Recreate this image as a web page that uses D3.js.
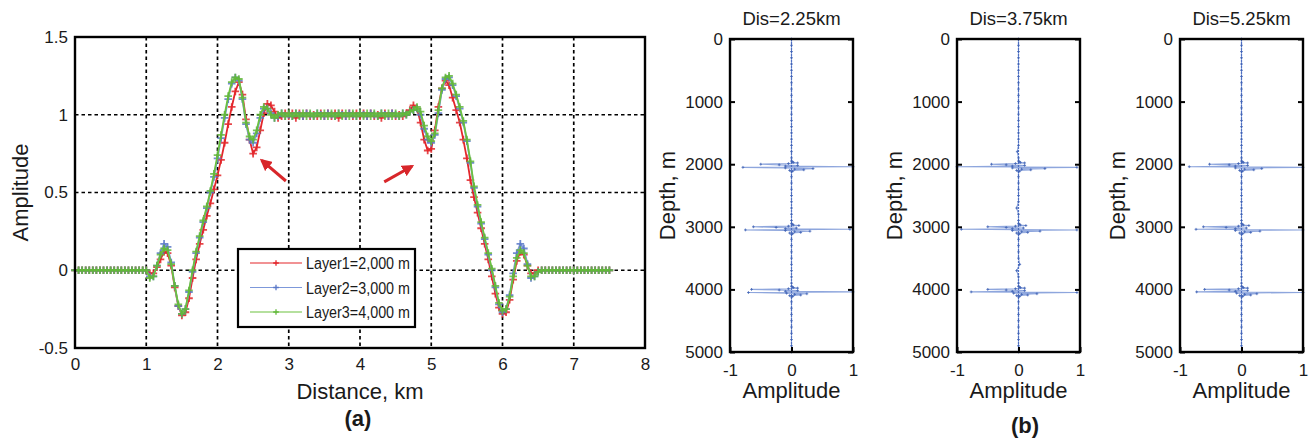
<!DOCTYPE html>
<html>
<head>
<meta charset="utf-8">
<script src="https://cdn.jsdelivr.net/npm/d3@7"></script>
<style>
body { margin: 0; background: #fff; }
text { font-family: Arial, "Liberation Sans", sans-serif; fill: #1a1a1a; }
</style>
</head>
<body>
<svg id="fig" width="1310" height="438"></svg>
<script>
// ---- data: panel (a) ----
const distance = [
  0,0.05,0.1,0.15,0.2,0.25,0.3,0.35,0.4,0.45,
  0.5,0.55,0.6,0.65,0.7,0.75,0.8,0.85,0.9,0.95,
  1,1.05,1.1,1.15,1.2,1.25,1.3,1.35,1.4,1.45,
  1.5,1.55,1.6,1.65,1.7,1.75,1.8,1.85,1.9,1.95,
  2,2.05,2.1,2.15,2.2,2.25,2.3,2.35,2.4,2.45,
  2.5,2.55,2.6,2.65,2.7,2.75,2.8,2.85,2.9,2.95,
  3,3.05,3.1,3.15,3.2,3.25,3.3,3.35,3.4,3.45,
  3.5,3.55,3.6,3.65,3.7,3.75,3.8,3.85,3.9,3.95,
  4,4.05,4.1,4.15,4.2,4.25,4.3,4.35,4.4,4.45,
  4.5,4.55,4.6,4.65,4.7,4.75,4.8,4.85,4.9,4.95,
  5,5.05,5.1,5.15,5.2,5.25,5.3,5.35,5.4,5.45,
  5.5,5.55,5.6,5.65,5.7,5.75,5.8,5.85,5.9,5.95,
  6,6.05,6.1,6.15,6.2,6.25,6.3,6.35,6.4,6.45,
  6.5,6.55,6.6,6.65,6.7,6.75,6.8,6.85,6.9,6.95,
  7,7.05,7.1,7.15,7.2,7.25,7.3,7.35,7.4,7.45,
  7.5
];
const layer1 = [
  0,0,0,0,0,0,0,0,0,0,
  0,0,0,0,0,0,0,0,0,0,
  0,-0.02,-0.02,0.02,0.07,0.12,0.11,0.03,-0.11,-0.23,
  -0.29,-0.27,-0.18,-0.05,0.07,0.17,0.26,0.35,0.43,0.52,
  0.61,0.71,0.82,0.94,1.05,1.15,1.21,1.13,0.97,0.84,
  0.75,0.79,0.9,1.01,1.07,1.06,1.02,0.98,0.99,1.01,
  0.99,1.01,0.98,1.01,0.99,1.01,0.99,1,0.99,1.01,
  0.99,1.01,0.99,1.01,0.98,1.01,0.99,1.01,0.99,1.01,
  0.99,1.01,0.99,1.01,0.99,1,0.98,1.01,0.99,1.01,
  0.99,1,0.99,1.01,1.03,1.06,1.04,0.95,0.84,0.77,
  0.78,0.9,1.05,1.17,1.22,1.19,1.11,1.03,0.95,0.84,
  0.72,0.58,0.47,0.37,0.27,0.17,0.07,-0.04,-0.15,-0.24,
  -0.28,-0.27,-0.19,-0.06,0.06,0.12,0.1,0.03,-0.02,-0.02,
  0,0,0,0,0,0,0,0,0,0,
  0,0,0,0,0,0,0,0,0,0,
  0
];
const layer2 = [
  0,0,0,0,0,0,0,0,0,0,
  0,0,0,0,0,0,0,0,0,0,
  0,-0.04,-0.04,0.03,0.11,0.17,0.15,0.05,-0.1,-0.23,
  -0.28,-0.25,-0.14,-0.01,0.11,0.21,0.31,0.4,0.5,0.6,
  0.72,0.85,0.98,1.1,1.2,1.24,1.22,1.1,0.94,0.84,
  0.82,0.88,0.98,1.04,1.04,1.01,0.98,0.99,1.01,0.99,
  1,0.99,1.01,1,0.99,1.01,1,0.99,1.01,1,
  0.99,1.01,1,0.99,1.01,1,0.99,1.01,1,0.99,
  1.01,1,0.99,1.01,1,0.99,1.01,1,0.99,1.01,
  1,0.99,1.01,1,1.02,1.03,1.04,1,0.91,0.84,
  0.82,0.87,1.01,1.16,1.23,1.24,1.19,1.12,1.04,0.95,
  0.83,0.69,0.53,0.41,0.3,0.2,0.1,0,-0.11,-0.22,
  -0.27,-0.25,-0.16,-0.02,0.11,0.17,0.14,0.04,-0.05,-0.04,
  -0.01,0,0,0,0,0,0,0,0,0,
  0,0,0,0,0,0,0,0,0,0,
  0
];
const layer3 = [
  0,0,0,0,0,0,0,0,0,0,
  0,0,0,0,0,0,0,0,0,0,
  0,-0.05,-0.04,0.03,0.1,0.14,0.13,0.04,-0.1,-0.22,
  -0.28,-0.25,-0.13,0,0.12,0.22,0.32,0.41,0.51,0.62,
  0.74,0.87,1,1.12,1.21,1.24,1.23,1.11,0.95,0.86,
  0.84,0.9,1,1.05,1.04,1,0.98,1,1.01,0.99,
  1.01,0.99,1.01,0.99,1.01,0.99,1.01,0.99,1.01,0.99,
  1.01,0.99,1.01,0.99,1.01,0.99,1.01,0.99,1.01,0.99,
  1.01,0.99,1.01,0.99,1.01,0.99,1.01,0.99,1.01,0.99,
  1.01,0.99,1.01,1,1.02,1.03,1.05,1.02,0.93,0.86,
  0.83,0.88,1.03,1.17,1.24,1.25,1.2,1.13,1.05,0.96,
  0.84,0.7,0.54,0.42,0.31,0.21,0.11,0.01,-0.1,-0.21,
  -0.26,-0.25,-0.17,-0.04,0.08,0.13,0.11,0.03,-0.04,-0.04,
  -0.01,0,0,0,0,0,0,0,0,0,
  0,0,0,0,0,0,0,0,0,0,
  0
];
const layerNames = ["Layer1=2,000 m", "Layer2=3,000 m", "Layer3=4,000 m"];
const xTicksA = [0, 1, 2, 3, 4, 5, 6, 7, 8];
const yTicksA = [-0.5, 0, 0.5, 1, 1.5];
// arrows pointing at the dips [x0, y0, x1, y1] in data units
const arrows = [[2.96, 0.574, 2.62, 0.707], [4.34, 0.568, 4.73, 0.669]];

// ---- data: panel (b) ----
const depth = [
  0,100,200,300,400,500,600,700,800,900,1000,1100,1200,1300,1400,1500,1600,1700,1800,1900,
  1950,1960,1970,1980,1990,2000,2010,2020,2030,2040,2050,2060,2070,2080,2090,2100,2110,2120,
  2200,2300,2400,2500,2600,2700,2800,2900,
  2950,2960,2970,2980,2990,3000,3010,3020,3030,3040,3050,3060,3070,3080,3090,3100,3110,3120,
  3200,3300,3400,3500,3600,3700,3800,3900,
  3950,3960,3970,3980,3990,4000,4010,4020,4030,4040,4050,4060,4070,4080,4090,4100,4110,4120,
  4200,4300,4400,4500,4600,4700,4800,4900,5000
];
const trace225 = [
  0,0,0,0,0,0,0,0,0,0,0,0,0,0,0,0,0,0,0,0,
  0,0.01,0.03,0.1,-0.05,-0.5,-0.2,0.1,-0.1,1,-0.79,-0.1,0.35,0.05,0.2,-0.03,0.02,0,
  0,0,0,0,0,0,0,0,
  0,0.01,0.03,0.12,-0.05,-0.62,-0.25,0.08,-0.1,0.95,-0.75,-0.1,0.3,0.05,0.15,-0.03,0.02,0,
  0,0,0,0,0,0,0,0,
  0,0.01,0.03,0.1,-0.05,-0.65,-0.2,0.1,-0.1,1,-0.7,-0.08,0.25,0.05,0.15,-0.03,0.02,0,
  0,0,0,0,0,0,0,0,0
];
const trace375 = [
  0,0,0,0,0,0,0,0,0,0,0,0,0,0,0,0,0,0,-0.02,0,
  0,0.01,0.03,0.1,-0.05,-0.44,-0.2,0.1,-0.1,-1,0.95,-0.1,0.43,0.05,0.2,-0.03,0.02,0,
  0,0,0,0,0,-0.03,0,0,
  0,0.01,0.03,0.12,-0.05,-0.5,-0.2,0.08,-0.1,-0.93,0.95,-0.1,0.35,0.05,0.15,-0.03,0.02,0,
  0,0,0,0,0.02,-0.03,0,0,
  0,0.01,0.03,0.1,-0.05,-0.5,-0.2,0.1,-0.1,-0.77,0.95,-0.08,0.3,0.05,0.15,-0.03,0.02,0,
  0,0,0,0,0,0,0,0,0
];
const trace525 = [
  0,0,0,0,0,0,0,0,0,0,0,0,0,0,0,0,0,0,0,0,
  0,0.01,0.03,0.1,-0.05,-0.52,-0.2,0.1,-0.1,-0.85,1,-0.1,0.33,0.05,0.2,-0.03,0.02,0,
  0,0,0,0,0,0,0,0,
  0,0.01,0.03,0.12,-0.05,-0.62,-0.25,0.08,-0.1,-0.74,1,-0.1,0.3,0.05,0.15,-0.03,0.02,0,
  0,0,0,0,0,0,0,0,
  0,0.01,0.03,0.1,-0.05,-0.6,-0.2,0.1,-0.1,-0.73,1,-0.08,0.25,0.05,0.15,-0.03,0.02,0,
  0,0,0,0,0,0,0,0,0
];
const panelTitles = ["Dis=2.25km", "Dis=3.75km", "Dis=5.25km"];
const depthTicks = [0, 1000, 2000, 3000, 4000, 5000];
const ampTicks = [-1, 0, 1];

const svg = d3.select("#fig");
const plus = s => `M${-s},0H${s}M0,${-s}V${s}`;
const FONT = "Arial, 'Liberation Sans', sans-serif";

// ================= panel (a) =================
const A = {left: 75, right: 645, top: 37, bottom: 348};
const xA = d3.scaleLinear().domain([0, 8]).range([A.left, A.right]);
const yA = d3.scaleLinear().domain([-0.5, 1.5]).range([A.bottom, A.top]);

const ga = svg.append("g");

// dashed grid
ga.append("g").selectAll("line").data(xTicksA.slice(1, -1)).join("line")
  .attr("x1", d => xA(d)).attr("x2", d => xA(d))
  .attr("y1", A.top).attr("y2", A.bottom)
  .attr("stroke", "#000").attr("stroke-width", 1.7).attr("stroke-dasharray", "3.5,3");
ga.append("g").selectAll("line").data(yTicksA.slice(1, -1)).join("line")
  .attr("x1", A.left).attr("x2", A.right)
  .attr("y1", d => yA(d)).attr("y2", d => yA(d))
  .attr("stroke", "#000").attr("stroke-width", 1.7).attr("stroke-dasharray", "3.5,3");

const colors = ["#e3262b", "#7d98da", "#6cc23f"];
const markColors = ["#e3262b", "#5a78c8", "#62b83a"];
const series = [layer1, layer2, layer3];
const lineA = d3.line().x((d, i) => xA(distance[i])).y(d => yA(d));

series.forEach((s, k) => {
  ga.append("path").datum(s)
    .attr("d", lineA).attr("fill", "none")
    .attr("stroke", colors[k]).attr("stroke-width", 1.8);
  ga.append("g").selectAll("path").data(s).join("path")
    .attr("transform", (d, i) => `translate(${xA(distance[i])},${yA(d)})`)
    .attr("d", plus(3.8)).attr("stroke", markColors[k]).attr("stroke-width", 1.8)
    .attr("opacity", 0.85);
});

// arrows
svg.append("defs").append("marker")
  .attr("id", "head").attr("viewBox", "0 0 10 10").attr("refX", 8).attr("refY", 5)
  .attr("markerWidth", 4).attr("markerHeight", 4).attr("orient", "auto")
  .append("path").attr("d", "M0,0L10,5L0,10Z").attr("fill", "#d8262a");
ga.append("g").selectAll("line").data(arrows).join("line")
  .attr("x1", d => xA(d[0])).attr("y1", d => yA(d[1]))
  .attr("x2", d => xA(d[2])).attr("y2", d => yA(d[3]))
  .attr("stroke", "#d8262a").attr("stroke-width", 3).attr("marker-end", "url(#head)");

// axes
const axA = ga.append("g").attr("transform", `translate(0,${A.bottom})`)
  .call(d3.axisBottom(xA).tickValues(xTicksA).tickSize(0).tickPadding(10));
const ayA = ga.append("g").attr("transform", `translate(${A.left},0)`)
  .call(d3.axisLeft(yA).tickValues(yTicksA).tickFormat(d => String(d)).tickSize(0).tickPadding(7));
[axA, ayA].forEach(a => {
  a.select(".domain").remove();
  a.selectAll("text").attr("font-size", 17).attr("fill", "#1a1a1a").style("font-family", FONT);
});
ga.append("rect").attr("x", A.left).attr("y", A.top)
  .attr("width", A.right - A.left).attr("height", A.bottom - A.top)
  .attr("fill", "none").attr("stroke", "#000").attr("stroke-width", 2.4);

// legend
const L = {x: 238, y: 249, w: 177, h: 78};
const lg = ga.append("g");
lg.append("rect").attr("x", L.x).attr("y", L.y).attr("width", L.w).attr("height", L.h)
  .attr("fill", "#fff").attr("stroke", "#000").attr("stroke-width", 2.2);
layerNames.forEach((name, k) => {
  const yy = L.y + 14 + k * 24.5;
  lg.append("line").attr("x1", L.x + 12).attr("x2", L.x + 64).attr("y1", yy).attr("y2", yy)
    .attr("stroke", colors[k]).attr("stroke-width", 1.2);
  lg.append("path").attr("transform", `translate(${L.x + 38},${yy})`)
    .attr("d", plus(2.8)).attr("stroke", markColors[k]).attr("stroke-width", 1.3);
  lg.append("text").attr("x", L.x + 68).attr("y", yy + 6).attr("font-size", 16)
    .attr("textLength", 104).attr("lengthAdjust", "spacingAndGlyphs").text(name);
});

ga.append("text").attr("x", (A.left + A.right) / 2).attr("y", 399)
  .attr("text-anchor", "middle").attr("font-size", 22).text("Distance, km");
ga.append("text").attr("transform", `translate(28,${(A.top + A.bottom) / 2}) rotate(-90)`)
  .attr("text-anchor", "middle").attr("font-size", 22).text("Amplitude");
ga.append("text").attr("x", 358).attr("y", 426).attr("text-anchor", "middle")
  .attr("font-size", 22).attr("font-weight", "bold").text("(a)");

// ================= panel (b) =================
const panelsLeft = [730, 957, 1180];
const PW = 123, PT = 39, PB = 352;
const traces = [trace225, trace375, trace525];
const yB = d3.scaleLinear().domain([0, 5000]).range([PT, PB]);

panelsLeft.forEach((left, p) => {
  const xB = d3.scaleLinear().domain([-1, 1]).range([left, left + PW]);
  const g = svg.append("g");
  const lineB = d3.line().x(d => xB(d)).y((d, i) => yB(depth[i]));

  g.append("path").datum(traces[p]).attr("d", lineB).attr("fill", "none")
    .attr("stroke", "#8ea6dd").attr("stroke-width", 1.1);
  g.append("line").attr("x1", xB(0)).attr("x2", xB(0)).attr("y1", PT).attr("y2", PB)
    .attr("stroke", "#4f70c2").attr("stroke-width", 1.2).attr("stroke-dasharray", "2,1");
  g.append("g").selectAll("path").data(traces[p]).join("path")
    .attr("transform", (d, i) => `translate(${xB(d)},${yB(depth[i])})`)
    .attr("d", plus(1.4)).attr("stroke", "#3f62b5").attr("stroke-width", 0.8);

  const ax = g.append("g").attr("transform", `translate(0,${PB})`)
    .call(d3.axisBottom(xB).tickValues(ampTicks).tickFormat(d => String(d)).tickSize(-5).tickPadding(12));
  const ay = g.append("g").attr("transform", `translate(${left},0)`)
    .call(d3.axisLeft(yB).tickValues(depthTicks).tickFormat(d => String(d)).tickSize(-5).tickPadding(7));
  const ayr = g.append("g").attr("transform", `translate(${left + PW},0)`)
    .call(d3.axisRight(yB).tickValues(depthTicks).tickFormat("").tickSize(-5));
  [ax, ay, ayr].forEach(a => {
    a.select(".domain").remove();
    a.selectAll("line").attr("stroke", "#000").attr("stroke-width", 2);
    a.selectAll("text").attr("font-size", 17).attr("fill", "#1a1a1a").style("font-family", FONT);
  });
  g.append("rect").attr("x", left).attr("y", PT).attr("width", PW).attr("height", PB - PT)
    .attr("fill", "none").attr("stroke", "#000").attr("stroke-width", 2.4);

  g.append("text").attr("x", left + PW / 2).attr("y", 25).attr("text-anchor", "middle")
    .attr("font-size", 18.5).text(panelTitles[p]);
  g.append("text").attr("x", left + PW / 2).attr("y", 398).attr("text-anchor", "middle")
    .attr("font-size", 22).text("Amplitude");
  g.append("text").attr("transform", `translate(${left - 55},${(PT + PB) / 2}) rotate(-90)`)
    .attr("text-anchor", "middle").attr("font-size", 22).text("Depth, m");
});

svg.append("text").attr("x", 1025).attr("y", 433).attr("text-anchor", "middle")
  .attr("font-size", 22).attr("font-weight", "bold").text("(b)");
</script>
</body>
</html>
